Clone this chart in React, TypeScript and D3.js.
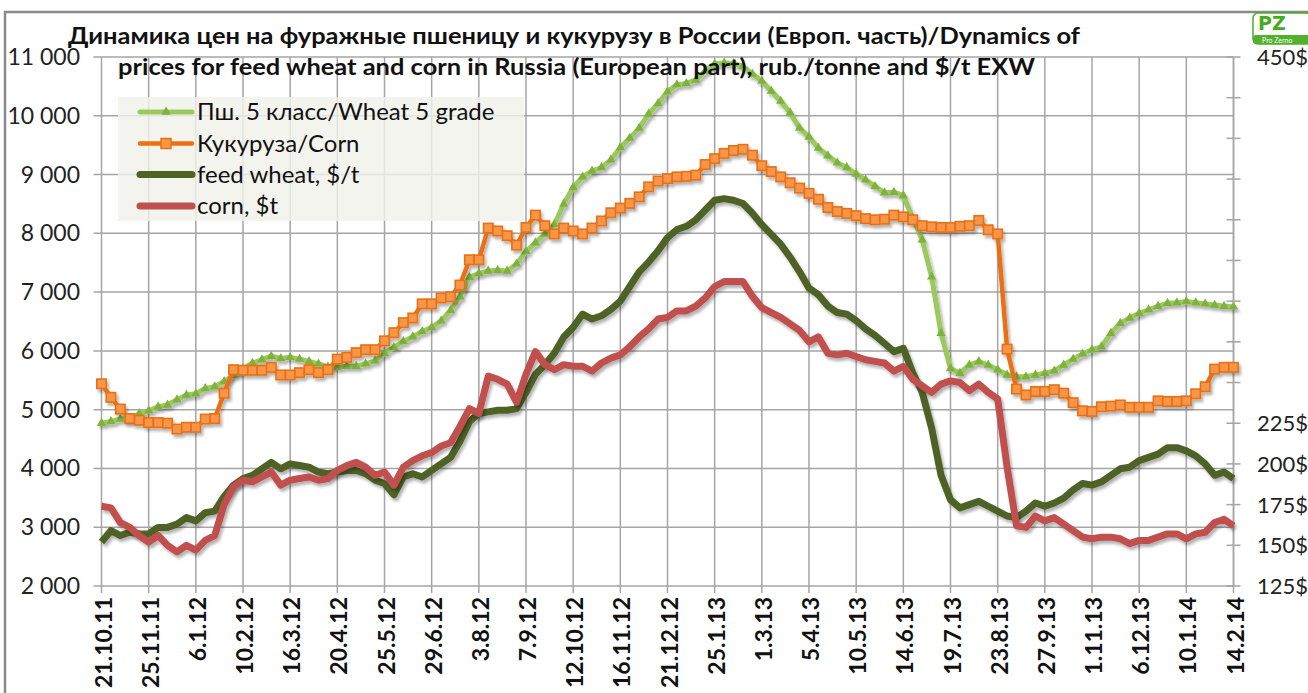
import React from 'react';
import * as d3 from 'd3';

// --- data (weekly points, category axis, label every 5th point) ---
const tickLabels = [
  '21.10.11', '25.11.11', '6.1.12', '10.2.12', '16.3.12', '20.4.12', '25.5.12', '29.6.12',
  '3.8.12', '7.9.12', '12.10.12', '16.11.12', '21.12.12', '25.1.13', '1.3.13', '5.4.13',
  '10.5.13', '14.6.13', '19.7.13', '23.8.13', '27.9.13', '1.11.13', '6.12.13', '10.1.14', '14.2.14',
];

// Пш. 5 класс / Wheat 5 grade, rub./t
const wheatRub = [
  4770, 4800, 4840, 4850, 4930, 4980, 5050, 5080, 5170, 5250,
  5270, 5360, 5390, 5480, 5590, 5700, 5790, 5850, 5910, 5870,
  5890, 5860, 5820, 5780, 5730, 5720, 5740, 5740, 5780, 5830,
  5960, 6060, 6160, 6240, 6330, 6400, 6510, 6690, 6920, 7250,
  7320, 7360, 7370, 7360, 7480, 7690, 7840, 7990, 8150, 8500,
  8780, 8960, 9060, 9120, 9250, 9460, 9620, 9790, 10030, 10210,
  10410, 10530, 10550, 10610, 10760, 10880, 10900, 10890, 10840, 10710,
  10590, 10420, 10250, 10050, 9790, 9640, 9450, 9320, 9200, 9120,
  9010, 8910, 8800, 8690, 8700, 8640, 8260, 7890, 7260, 6300,
  5700, 5620, 5760, 5820, 5760, 5680, 5590, 5560, 5560, 5590,
  5620, 5660, 5760, 5860, 5950, 6020, 6070, 6300, 6470, 6560,
  6640, 6700, 6760, 6810, 6820, 6840, 6820, 6800, 6780, 6760,
  6750,
];

// Кукуруза / Corn, rub./t
const cornRub = [
  5440, 5210, 5010, 4850, 4820, 4780, 4780, 4770, 4670, 4700,
  4700, 4840, 4850, 5280, 5680, 5670, 5670, 5670, 5720, 5590,
  5590, 5630, 5680, 5630, 5680, 5860, 5890, 5970, 6020, 6020,
  6170, 6310, 6480, 6560, 6800, 6800, 6900, 6920, 7120, 7550,
  7550, 8090, 8040, 7960, 7800, 8100, 8310, 8130, 7990, 8090,
  8040, 7990, 8090, 8210, 8350, 8430, 8510, 8620, 8790, 8890,
  8930, 8960, 8970, 8990, 9170, 9270, 9360, 9410, 9430, 9330,
  9150, 9050, 8960, 8860, 8770, 8680, 8580, 8440, 8370, 8340,
  8300, 8250, 8230, 8240, 8310, 8280, 8230, 8130, 8110, 8100,
  8100, 8120, 8130, 8220, 8060, 7990, 6030, 5350, 5250, 5310,
  5310, 5340, 5280, 5120, 4980, 4970, 5050, 5060, 5080, 5040,
  5040, 5040, 5150, 5140, 5140, 5150, 5270, 5390, 5690, 5720,
  5720,
];

// feed wheat, $/t (secondary axis)
const wheatUsd = [
  152, 159, 156, 158, 157, 157, 161, 161, 163, 167,
  165, 170, 171, 180, 187, 191, 193, 197, 201, 197,
  200, 199, 198, 195, 194, 195, 196, 196, 194, 190,
  188, 181, 192, 194, 192, 196, 200, 204, 214, 226,
  231, 232, 233, 233, 234, 244, 255, 261, 268, 278,
  284, 292, 289, 291, 295, 300, 309, 318, 324, 331,
  339, 344, 346, 350, 356, 362, 363, 362, 360, 354,
  347, 341, 335, 327, 318, 308, 304, 297, 293, 292,
  288, 283, 279, 274, 269, 271, 256, 244, 222, 193,
  178, 173, 175, 177, 174, 171, 168, 167, 171, 176,
  174, 176, 179, 184, 188, 187, 189, 193, 197, 198,
  202, 204, 206, 210, 210, 208, 205, 200, 193, 195,
  191,
];

// corn, $/t (secondary axis)
const cornUsd = [
  174, 173, 164, 161, 156, 152, 156, 150, 146, 150,
  147, 153, 156, 175, 186, 190, 189, 192, 195, 187,
  190, 191, 192, 190, 191, 196, 199, 201, 198, 193,
  195, 187, 198, 202, 205, 207, 211, 213, 223, 234,
  231, 254, 252, 249, 238, 255, 269, 261, 258, 261,
  260, 260, 257, 262, 265, 267, 272, 278, 283, 289,
  290, 294, 294, 297, 302, 309, 312, 312, 312, 303,
  296, 293, 290, 286, 282, 275, 278, 268, 267, 268,
  266, 264, 263, 262, 257, 260, 252, 248, 244, 249,
  251, 250, 245, 249, 244, 240, 198, 162, 161, 168,
  165, 167, 163, 159, 155, 154, 155, 155, 154, 151,
  153, 153, 155, 157, 157, 154, 157, 158, 164, 166,
  162,
];

const rubTicks = [2000, 3000, 4000, 5000, 6000, 7000, 8000, 9000, 10000, 11000];
const usdTicks = [125, 150, 175, 200, 225, 250, 275, 300, 325, 350, 375, 400, 425, 450];
const usdShown = [125, 150, 175, 200, 225, 450];

const seriesNames = ['Пш. 5 класс/Wheat 5 grade', 'Кукуруза/Corn', 'feed wheat, $/t', 'corn, $t'];

const C = {
  wheat: '#9bc95d',
  wheatMk: '#7fb23e',
  corn: '#ea7012',
  cornMk: '#f7964a',
  wheatUsd: '#4f6228',
  cornUsd: '#c0504d',
  grid: '#a5a5a5',
};

const FONT = 'Lato, "Liberation Sans", sans-serif';
const fmt = (v: number) => d3.format(',')(v).replace(',', ' ');

export default function App() {
  const width = 1308, height = 693;
  const x = d3.scaleLinear().domain([0, wheatRub.length - 1]).range([101.5, 1233.5]);
  const yL = d3.scaleLinear().domain([2000, 11000]).range([586, 57]);
  const yR = d3.scaleLinear().domain([125, 450]).range([586, 57]);

  const lineL = d3.line<number>().x((_, i) => x(i)).y(d => yL(d));
  const lineR = d3.line<number>().x((_, i) => x(i)).y(d => yR(d));
  const tri = d3.symbol(d3.symbolTriangle, 38)();

  const [x0, x1] = x.range();
  const labelIdx = tickLabels.map((_, k) => k * 5);

  const legendY = [112, 143.5, 174.5, 206];

  return (
    <svg width={width} height={height} style={{ position: 'absolute', left: 0, top: 0 }} fontFamily={FONT}>
      <defs>
        <filter id="shadow" x="-5%" y="-10%" width="110%" height="130%">
          <feDropShadow dx="2" dy="3" stdDeviation="1.6" floodColor="#000" floodOpacity="0.3" />
        </filter>
      </defs>
      <rect width={width} height={height} fill="#fff" />
      <rect x={5} y={12} width={1320} height={700} fill="none" stroke="#8a8a8a" strokeWidth={2.5} />

      {/* grid */}
      <g stroke={C.grid} strokeWidth={1.5}>
        {rubTicks.map(t => (
          <line key={'h' + t} x1={x0 - 8} x2={x1} y1={yL(t)} y2={yL(t)} />
        ))}
        {labelIdx.map(i => (
          <line key={'v' + i} x1={x(i)} x2={x(i)} y1={yL(11000)} y2={yL(2000) + 7} />
        ))}
        <line x1={x1} x2={x1} y1={yR(450)} y2={yR(125)} />
        {usdTicks.map(t => (
          <line key={'r' + t} x1={x1 - 7} x2={x1 + 7} y1={yR(t)} y2={yR(t)} />
        ))}
      </g>

      {/* legend */}
      <rect x={118} y={97} width={406} height={124} fill="#f2f1ec" fillOpacity={0.82} />
      <g>
        <line x1={140} x2={192} y1={legendY[0]} y2={legendY[0]} stroke={C.wheat} strokeWidth={5} strokeLinecap="round" />
        <path d={tri!} transform={`translate(166,${legendY[0]})`} fill={C.wheatMk} />
        <line x1={140} x2={192} y1={legendY[1]} y2={legendY[1]} stroke={C.corn} strokeWidth={4.5} strokeLinecap="round" />
        <rect x={161} y={legendY[1] - 5} width={10} height={10} fill={C.cornMk} stroke={C.corn} strokeWidth={1.5} />
        <line x1={140} x2={192} y1={legendY[2]} y2={legendY[2]} stroke={C.wheatUsd} strokeWidth={7} strokeLinecap="round" />
        <line x1={140} x2={192} y1={legendY[3]} y2={legendY[3]} stroke={C.cornUsd} strokeWidth={7} strokeLinecap="round" />
        {seriesNames.map((s, k) => (
          <text key={s} x={197} y={legendY[k] + 8} fontSize={24} fill="#111">{s}</text>
        ))}
      </g>

      {/* series */}
      <g filter="url(#shadow)">
        <path d={lineL(wheatRub)!} fill="none" stroke={C.wheat} strokeWidth={5} strokeLinejoin="round" />
        {wheatRub.map((v, i) => (
          <path key={i} d={tri!} transform={`translate(${x(i)},${yL(v)})`} fill={C.wheatMk} />
        ))}
      </g>
      <g filter="url(#shadow)">
        <path d={lineL(cornRub)!} fill="none" stroke={C.corn} strokeWidth={4.5} strokeLinejoin="round" />
        {cornRub.map((v, i) => (
          <rect key={i} x={x(i) - 4.7} y={yL(v) - 4.7} width={9.4} height={9.4} fill={C.cornMk} stroke={C.corn} strokeWidth={1.6} />
        ))}
      </g>
      <g filter="url(#shadow)">
        <path d={lineR(wheatUsd)!} fill="none" stroke={C.wheatUsd} strokeWidth={7} strokeLinejoin="round" />
      </g>
      <g filter="url(#shadow)">
        <path d={lineR(cornUsd)!} fill="none" stroke={C.cornUsd} strokeWidth={7} strokeLinejoin="round" />
      </g>

      {/* left axis labels */}
      <g fontSize={23} fill="#222" textAnchor="end">
        {rubTicks.map(t => (
          <text key={t} x={80} y={yL(t) + 8}>{fmt(t)}</text>
        ))}
      </g>

      {/* right axis labels */}
      <g fontSize={22} fill="#222">
        {usdShown.map(t => (
          <text key={t} x={1257} y={yR(t) + 8}>{t}$</text>
        ))}
      </g>

      {/* x labels */}
      <g fontSize={23} fontWeight="bold" fill="#111" textAnchor="end">
        {labelIdx.map((i, k) => (
          <text key={i} transform={`translate(${x(i) + 1},597) rotate(-90)`} dominantBaseline="central">{tickLabels[k]}</text>
        ))}
      </g>

      {/* title */}
      <g fontWeight="bold" fontSize={23} fill="#111">
        <text x={68} y={44} textLength={1012} lengthAdjust="spacingAndGlyphs">
          Динамика цен на фуражные пшеницу и кукурузу в России (Европ. часть)/Dynamics of
        </text>
        <text x={118} y={75} textLength={917} lengthAdjust="spacingAndGlyphs">
          prices for feed wheat and corn in Russia (European part), rub./tonne and $/t EXW
        </text>
      </g>

      {/* logo */}
      <g>
        <rect x={1253} y={13} width={58} height={31} rx={5} fill="#fff" stroke="#4cae28" strokeWidth={1.5} />
        <text x={1258} y={30} fontSize={19} fontWeight="bold" fill="#46ab22" fontFamily="DejaVu Sans, sans-serif">PZ</text>
        <rect x={1253} y={35} width={58} height={9} rx={3} fill="#52b02c" />
        <text x={1262} y={43} fontSize={7} fill="#fff">Pro Zerno</text>
      </g>
    </svg>
  );
}
